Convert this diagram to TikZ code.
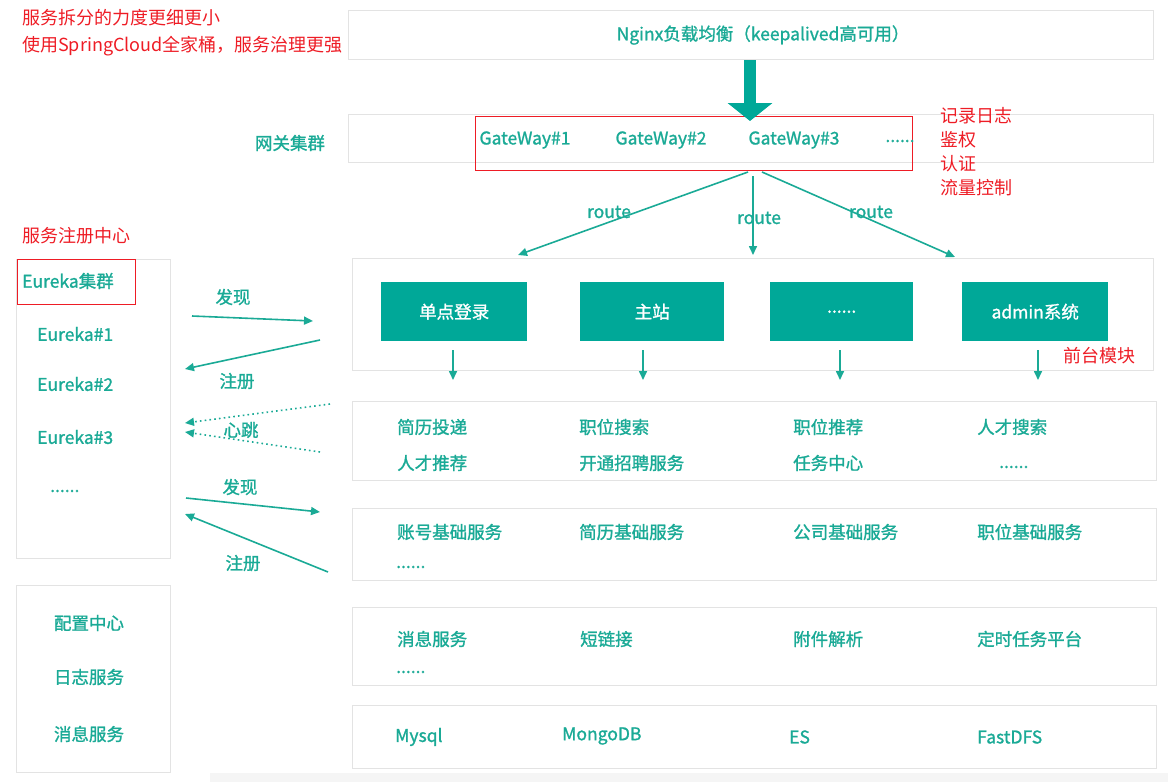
\documentclass[tikz,border=0pt]{standalone}
\usepackage{fontspec}
\setmainfont{Noto Sans CJK SC}
\newfontfamily\tealfont[FakeBold=1.2]{Noto Sans CJK SC}
\usetikzlibrary{arrows.meta}
\definecolor{tealtxt}{HTML}{1AAA96}
\definecolor{tealbox}{HTML}{00A898}
\definecolor{redc}{HTML}{EE1C25}
\definecolor{grayb}{HTML}{E3E3E3}
\tikzset{
  panel/.style={draw=grayb, line width=1.3pt, fill=white, anchor=north west, inner sep=0pt},
  lbl/.style={text=tealtxt, font=\tealfont\fontsize{17.5}{20}\selectfont, inner sep=0pt, anchor=west},
  clbl/.style={text=tealtxt, font=\tealfont\fontsize{17.5}{20}\selectfont, inner sep=0pt},
  wlbl/.style={text=white, font=\tealfont\fontsize{17.5}{20}\selectfont, inner sep=0pt},
  rtxt/.style={text=redc, font=\fontsize{18}{22}\selectfont, inner sep=0pt, anchor=west},
  gbox/.style={fill=tealbox, anchor=north west, inner sep=0pt},
  redbox/.style={draw=redc, line width=1.4pt, anchor=north west, inner sep=0pt},
  conn/.style={draw=tealtxt, line width=1.6pt, -{Triangle[length=9pt,width=8pt]}},
  hbeat/.style={conn, dash pattern=on 1.6pt off 3.2pt},
}
\begin{document}
\begin{tikzpicture}[x=1pt,y=-1pt]
\useasboundingbox (0,0) rectangle (1168,782);
\fill[black!4] (210,773) rectangle (1168,782);

% top-left notes
\node[rtxt] (note1) at (22,18) {服务拆分的力度更细更小};
\node[rtxt] (note2) at (22,46) {使用SpringCloud全家桶，服务治理更强};

% Nginx
\node[panel, minimum width=805pt, minimum height=49pt] (nginx) at (348,10) {};
\node[clbl] (nginxt) at (763,35) {Nginx负载均衡（keepalived高可用）};

% gateway panel
\node[panel, minimum width=805pt, minimum height=48pt] (gw) at (348,114) {};
\node[clbl] (gwlbl) at (290,143) {网关集群};
\node[redbox, minimum width=437pt, minimum height=54pt] (gwred) at (475,116) {};
\node[clbl] (gw1) at (525,140) {GateWay\#1};
\node[clbl] (gw2) at (661,140) {GateWay\#2};
\node[clbl] (gw3) at (794,140) {GateWay\#3};
\node[clbl] (gwd) at (900,141) {......};
\node[rtxt] (r1) at (940,116) {记录日志};
\node[rtxt] (r2) at (940,140) {鉴权};
\node[rtxt] (r3) at (940,164) {认证};
\node[rtxt] (r4) at (940,188) {流量控制};

% big arrow
\coordinate (bigS) at (750,60);
\coordinate (bigE) at (750,121);
\draw[draw=tealbox, line width=12pt, -{Triangle[length=18pt,width=44pt]}] (bigS) -- (bigE);

% front panel
\node[panel, minimum width=801pt, minimum height=112pt] (front) at (352,258) {};
\node[gbox, minimum width=146pt, minimum height=59pt] (b1) at (381,282) {};
\node[gbox, minimum width=144pt, minimum height=59pt] (b2) at (580,282) {};
\node[gbox, minimum width=143pt, minimum height=59pt] (b3) at (770,282) {};
\node[gbox, minimum width=146pt, minimum height=59pt] (b4) at (962,282) {};
\node[wlbl] (b1t) at (b1.center) {单点登录};
\node[wlbl] (b2t) at (b2.center) {主站};
\node[wlbl] (b3t) at (b3.center) {......};
\node[wlbl] (b4t) at (b4.center) {admin系统};
\node[rtxt] (qt) at (1063,356) {前台模块};

% route arrows
\coordinate (rs1) at (748,172);
\coordinate (rs2) at (753,176);
\coordinate (rs3) at (762,172);
\coordinate (re1) at (518,255);
\coordinate (re2) at (753,255);
\coordinate (re3) at (955,257);
\draw[conn] (rs1) -- (re1);
\draw[conn] (rs2) -- (re2);
\draw[conn] (rs3) -- (re3);
\node[clbl] (rt1) at (609,212) {route};
\node[clbl] (rt2) at (759,218) {route};
\node[clbl] (rt3) at (871,212) {route};

% down arrows
\foreach \x/\n in {453/1,643/2,840/3,1038/4}{
  \coordinate (ds\n) at (\x,350);
  \coordinate (de\n) at (\x,380);
  \draw[conn] (ds\n) -- (de\n);
}

% service panels
\node[panel, minimum width=804pt, minimum height=79pt] (p2) at (352,401) {};
\node[lbl] at (397,427) {简历投递};
\node[lbl] at (579,427) {职位搜索};
\node[lbl] at (793,427) {职位推荐};
\node[lbl] at (977,427) {人才搜索};
\node[lbl] at (397,463) {人才推荐};
\node[lbl] at (579,463) {开通招聘服务};
\node[lbl] at (793,463) {任务中心};
\node[lbl] at (999,467) {......};

\node[panel, minimum width=804pt, minimum height=72pt] (p3) at (352,508) {};
\node[lbl] at (397,532) {账号基础服务};
\node[lbl] at (579,532) {简历基础服务};
\node[lbl] at (793,532) {公司基础服务};
\node[lbl] at (977,532) {职位基础服务};
\node[lbl] at (396,567) {......};

\node[panel, minimum width=804pt, minimum height=78pt] (p4) at (352,607) {};
\node[lbl] at (397,639) {消息服务};
\node[lbl] at (580,639) {短链接};
\node[lbl] at (793,639) {附件解析};
\node[lbl] at (977,639) {定时任务平台};
\node[lbl] at (396,672) {......};

\node[panel, minimum width=804pt, minimum height=63pt] (p5) at (352,705) {};
\node[lbl] at (395,737) {Mysql};
\node[lbl] at (562,736) {MongoDB};
\node[lbl] at (789,737) {ES};
\node[lbl] at (977,737) {FastDFS};

% left: eureka
\node[rtxt] (zc) at (22,236) {服务注册中心};
\node[panel, minimum width=154pt, minimum height=299pt] (eu) at (16,259) {};
\node[redbox, minimum width=118pt, minimum height=45pt] (eured) at (17,259) {};
\node[lbl] (euc) at (22,281) {Eureka集群};
\node[lbl] (eu1) at (37,334) {Eureka\#1};
\node[lbl] (eu2) at (37,384) {Eureka\#2};
\node[lbl] (eu3) at (37,437) {Eureka\#3};
\node[lbl] (eud) at (50,491) {......};

\node[panel, minimum width=154pt, minimum height=187pt] (cfg) at (16,585) {};
\node[clbl] (c1) at (89,623) {配置中心};
\node[clbl] (c2) at (89,677) {日志服务};
\node[clbl] (c3) at (89,734) {消息服务};

% discovery arrows
\coordinate (a1s) at (192,316); \coordinate (a1e) at (313,321);
\coordinate (a2s) at (320,340); \coordinate (a2e) at (185,369);
\coordinate (a3s) at (330,404); \coordinate (a3e) at (185,423);
\coordinate (a4s) at (320,452); \coordinate (a4e) at (185,432);
\coordinate (a5s) at (186,498); \coordinate (a5e) at (320,512);
\coordinate (a6s) at (328,572); \coordinate (a6e) at (185,514);
\draw[conn] (a1s) -- (a1e);
\draw[conn] (a2s) -- (a2e);
\draw[hbeat] (a3s) -- (a3e);
\draw[hbeat] (a4s) -- (a4e);
\draw[conn] (a5s) -- (a5e);
\draw[conn] (a6s) -- (a6e);
\node[clbl] (l1) at (233,297) {发现};
\node[clbl] (l2) at (237,381) {注册};
\node[clbl] (l3) at (241,430) {心跳};
\node[clbl] (l4) at (240,487) {发现};
\node[clbl] (l5) at (243,563) {注册};
\end{tikzpicture}
\end{document}
